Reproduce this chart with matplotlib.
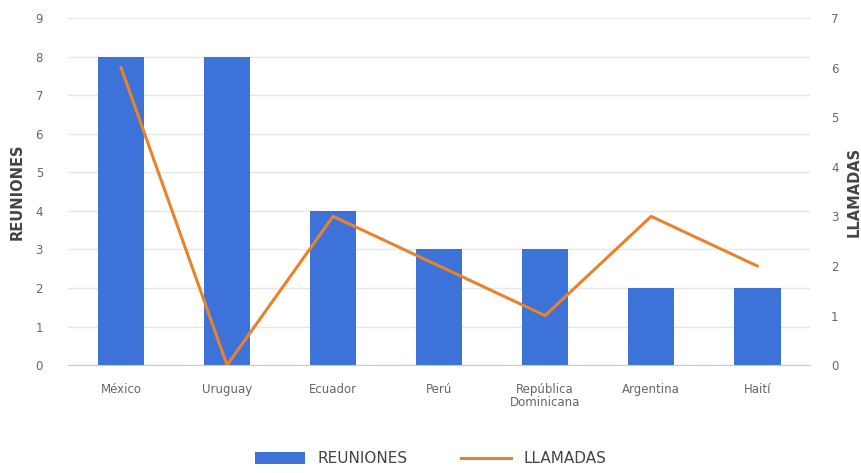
# bar + line chart: reuniones y llamadas por país
import matplotlib.pyplot as plt
import numpy as np

# data
paises = ['México', 'Uruguay', 'Ecuador', 'Perú', 'República\nDominicana', 'Argentina', 'Haití']
reuniones = [8, 8, 4, 3, 3, 2, 2]
llamadas = [6, 0, 3, 2, 1, 3, 2]

azul = '#3d72d8'
naranja = '#e8832b'
gris = '#555555'

fig = plt.figure(figsize=(8.61, 4.73), dpi=100)
ax = fig.add_axes([0.079, 0.228, 0.862, 0.734])
ax2 = ax.twinx()

x = np.arange(len(paises))
ax.bar(x, reuniones, width=0.44, color=azul, zorder=2, label='REUNIONES')
ax2.plot(x, llamadas, color=naranja, lw=2.2, zorder=3, label='LLAMADAS')

# axes limits and ticks
ax.set_xlim(-0.5, len(paises) - 0.5)
ax.set_ylim(0, 9)
ax.set_yticks(range(0, 10))
ax2.set_ylim(0, 7)
ax2.set_yticks(range(0, 8))
ax.set_xticks(x)
ax.set_xticklabels(paises, fontsize=9, color=gris, linespacing=0.95)

for a in (ax, ax2):
    for s in a.spines.values():
        s.set_visible(False)
    a.tick_params(length=0, labelsize=8.5, labelcolor='#666666')
ax.tick_params(axis='y', pad=18)
ax2.tick_params(axis='y', pad=15)
ax.tick_params(axis='x', pad=13)

ax.spines['bottom'].set_visible(True)
ax.spines['bottom'].set_color('#cccccc')
ax.grid(axis='y', color='#e6e6e6', lw=1, zorder=0)
ax.set_axisbelow(True)

# labels
ax.set_ylabel('REUNIONES', fontsize=10.5, color='#444444', fontweight='bold', labelpad=8)
ax2.set_ylabel('LLAMADAS', fontsize=10.5, color='#444444', fontweight='bold',
               rotation=90, labelpad=6)

# legend
h1, l1 = ax.get_legend_handles_labels()
h2, l2 = ax2.get_legend_handles_labels()
fig.legend(h1 + h2, l1 + l2, loc='lower center', ncol=2, frameon=False,
           bbox_to_anchor=(0.5, -0.015), fontsize=11, labelcolor='#444444',
           handlelength=3.3, columnspacing=3.5, handleheight=0.9)

plt.savefig('out.png', dpi=100)
